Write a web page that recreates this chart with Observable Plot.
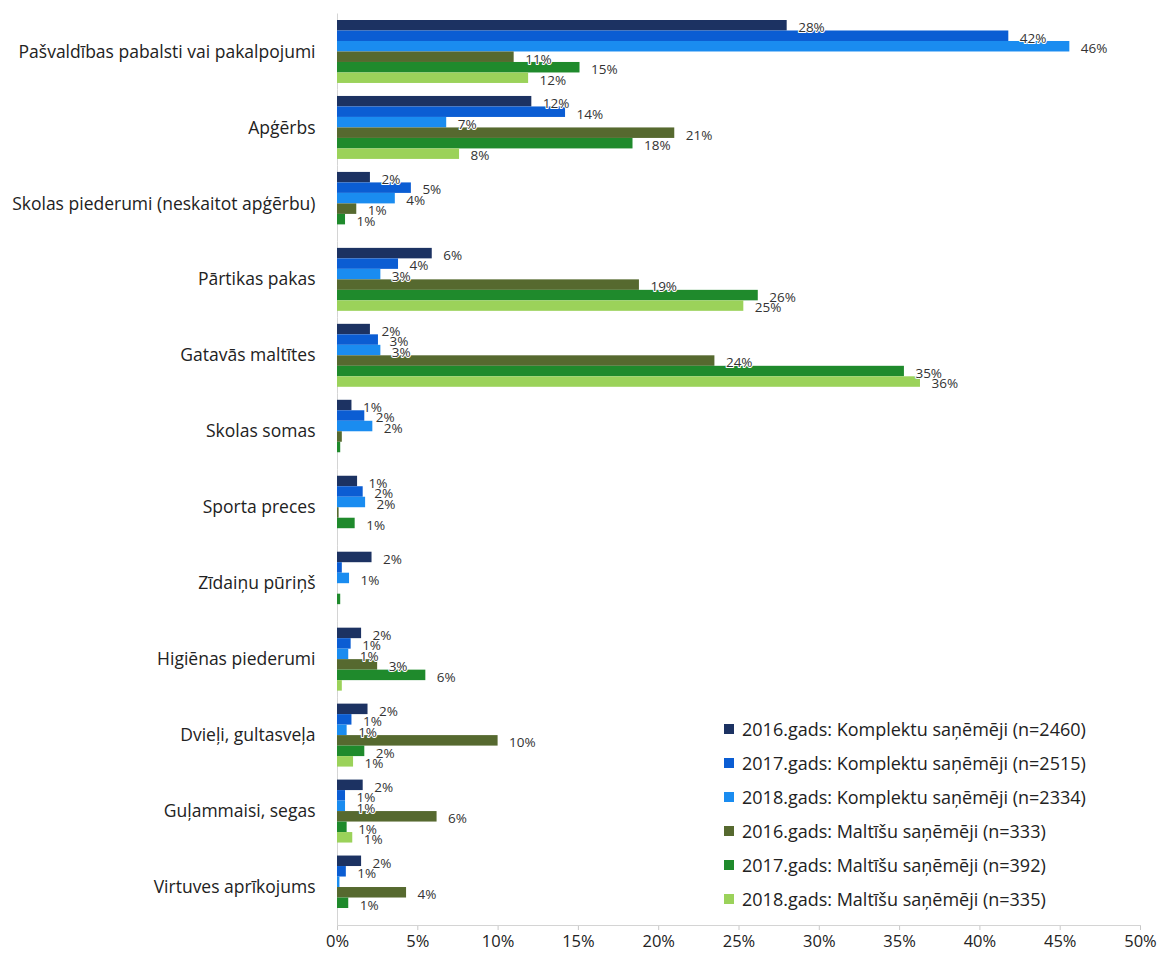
<!DOCTYPE html>
<html>
<head>
<meta charset="utf-8">
<script src="https://cdn.jsdelivr.net/npm/d3@7"></script>
<script src="https://cdn.jsdelivr.net/npm/@observablehq/plot@0.6"></script>
<style>
  html, body { margin: 0; padding: 0; background: #fff; }
  #wrap { position: relative; width: 1161px; height: 958px; font-family: "Open Sans", sans-serif; }
  #legend { position: absolute; left: 724px; top: 712px; }
  .item { display: flex; align-items: center; height: 34px; font-size: 18px; color: #222; white-space: nowrap; }
  .sw { width: 10px; height: 10px; margin-right: 8px; }
</style>
</head>
<body>
<div id="wrap"><div id="chart"></div><div id="legend"></div></div>
<script>
const categories = [
  "Pašvaldības pabalsti vai pakalpojumi",
  "Apģērbs",
  "Skolas piederumi (neskaitot apģērbu)",
  "Pārtikas pakas",
  "Gatavās maltītes",
  "Skolas somas",
  "Sporta preces",
  "Zīdaiņu pūriņš",
  "Higiēnas piederumi",
  "Dvieļi, gultasveļa",
  "Guļammaisi, segas",
  "Virtuves aprīkojums"
];
const series = [
  "2016.gads: Komplektu saņēmēji (n=2460)",
  "2017.gads: Komplektu saņēmēji (n=2515)",
  "2018.gads: Komplektu saņēmēji (n=2334)",
  "2016.gads: Maltīšu saņēmēji (n=333)",
  "2017.gads: Maltīšu saņēmēji (n=392)",
  "2018.gads: Maltīšu saņēmēji (n=335)"
];
const colors = ["#1c3262", "#0b5dd3", "#1a8cf0", "#56692f", "#1f8a2c", "#9bd25a"];

const komplekti2016 = [28.0, 12.1, 2.05, 5.9, 2.05, 0.9, 1.25, 2.15, 1.5, 1.9, 1.6, 1.5];
const komplekti2017 = [41.8, 14.2, 4.6, 3.8, 2.55, 1.7, 1.6, 0.3, 0.85, 0.9, 0.5, 0.55];
const komplekti2018 = [45.6, 6.8, 3.6, 2.7, 2.7, 2.2, 1.75, 0.75, 0.7, 0.6, 0.5, 0.15];
const maltites2016 = [11.0, 21.0, 1.2, 18.8, 23.5, 0.3, 0.1, 0, 2.5, 10.0, 6.2, 4.3];
const maltites2017 = [15.1, 18.4, 0.5, 26.2, 35.3, 0.2, 1.1, 0.2, 5.5, 1.7, 0.6, 0.7];
const maltites2018 = [11.9, 7.6, 0, 25.3, 36.3, 0, 0, 0, 0.3, 1.0, 0.95, 0];

const xTicks = [0, 5, 10, 15, 20, 25, 30, 35, 40, 45, 50];

const seriesValues = [komplekti2016, komplekti2017, komplekti2018, maltites2016, maltites2017, maltites2018];
const data = categories.flatMap((c, i) => series.map((s, j) => ({cat: c, series: s, value: seriesValues[j][i]})));

const chart = Plot.plot({
  width: 1161,
  height: 958,
  marginLeft: 337,
  marginRight: 21,
  marginTop: 13.5,
  marginBottom: 33,
  style: {fontFamily: "Open Sans, sans-serif", fontSize: "15px", color: "#222", background: "white"},
  x: {domain: [0, 50], label: null},
  y: {domain: series, axis: null, padding: 0, round: false, insetTop: 6.5, insetBottom: 6.5},
  fy: {domain: categories, padding: 0, round: false, label: null, axis: null},
  color: {domain: series, range: colors},
  marks: [
    Plot.axisFy({anchor: "left", tickSize: 0, tickPadding: 22, label: null, fontSize: 17.5, fill: "#222"}),
    Plot.axisX({ticks: xTicks, tickFormat: d => d + "%", tickSize: 5, tickPadding: 5, label: null, stroke: "#c8c8c8", fill: "#222", fontSize: 16.5}),
    Plot.frame({anchor: "bottom", facetAnchor: "bottom", stroke: "#d4d4d4"}),
    Plot.ruleX([0], {stroke: "#d4d4d4"}),
    Plot.barX(data, {x: "value", y: "series", fy: "cat", fill: "series"}),
    Plot.text(data.filter(d => d.value >= 0.5), {
      x: "value", y: "series", fy: "cat",
      text: d => Math.round(d.value) + "%",
      dx: 11, dy: 2, textAnchor: "start", fontSize: 13.5, fill: "#333",
      stroke: "white", strokeWidth: 2, paintOrder: "stroke"
    })
  ]
});
document.getElementById("chart").appendChild(chart);

const legend = document.getElementById("legend");
series.forEach((s, i) => {
  const item = document.createElement("div");
  item.className = "item";
  const sw = document.createElement("span");
  sw.className = "sw";
  sw.style.background = colors[i];
  const t = document.createElement("span");
  t.textContent = s;
  item.appendChild(sw);
  item.appendChild(t);
  legend.appendChild(item);
});
</script>
</body>
</html>
